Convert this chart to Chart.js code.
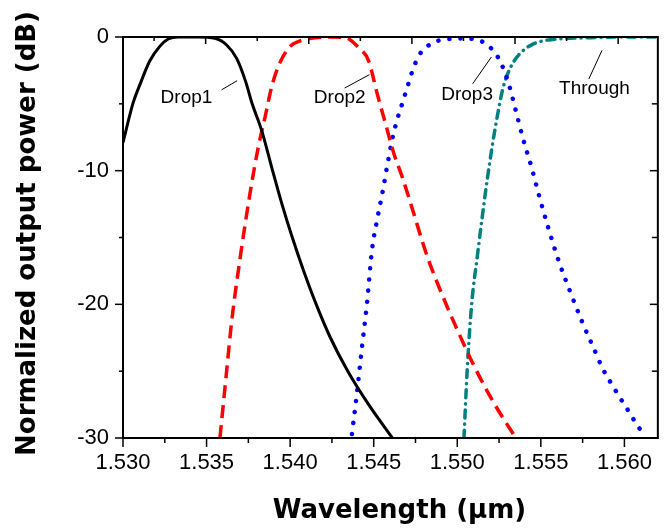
<!DOCTYPE html>
<html>
<head>
<meta charset="utf-8">
<title>Normalized output power vs wavelength</title>
<script src="https://cdn.jsdelivr.net/npm/chart.js@4.4.1/dist/chart.umd.min.js"></script>
<style>
  html, body { margin: 0; padding: 0; background: #ffffff; }
  #wrap { width: 664px; height: 529px; }
</style>
</head>
<body>
<div id="wrap"><canvas id="spectrum" width="664" height="529"></canvas></div>
<script>
// Values: wavelength in um, normalized power in dB
const drop1X = [1.5300, 1.5306, 1.5310, 1.5316, 1.5322, 1.5327, 1.5333, 1.5345, 1.5355, 1.5362,
  1.5368, 1.53733, 1.53773, 1.53830, 1.53895, 1.53951, 1.54013, 1.54081, 1.54156, 1.54241,
  1.54345, 1.54470, 1.54612];
const drop1Y = [-7.9, -4.95, -3.6, -1.8, -0.7, -0.15, 0, 0, -0.1, -0.6,
  -1.6, -3.3, -5.0, -7.0, -10.0, -12.5, -15.0, -17.5, -20.0, -22.5,
  -25.0, -27.5, -30.0];

const drop2X = [1.5358, 1.5362, 1.5365, 1.5370, 1.5376, 1.5381, 1.5385, 1.5389, 1.5394, 1.5400,
  1.5407, 1.5415, 1.5425, 1.5433, 1.5441, 1.5447, 1.5452, 1.5457, 1.5462, 1.5467,
  1.5471, 1.5482, 1.5491, 1.5500, 1.5510, 1.5522, 1.5534];
const drop2Y = [-30.0, -25.0, -21.3, -16.6, -11.7, -8.2, -6.0, -3.7, -1.9, -0.7,
  -0.25, -0.05, 0, -0.05, -0.8, -1.8, -4.2, -6.45, -8.7, -10.45,
  -12.0, -16.4, -19.3, -21.9, -24.6, -27.4, -29.8];

const drop3X = [1.5437, 1.5440, 1.5443, 1.5446, 1.5449, 1.5452, 1.5455, 1.5458, 1.5461, 1.5464,
  1.5467, 1.5470, 1.5473, 1.5477, 1.5481, 1.5488, 1.5496, 1.5505, 1.5514, 1.5517,
  1.5522, 1.5526, 1.5531, 1.5535, 1.5539, 1.5545, 1.5549, 1.5560, 1.5568, 1.5575,
  1.5581, 1.5587, 1.5594, 1.5602, 1.5608, 1.5612];
const drop3Y = [-29.7, -26.6, -23.2, -19.9, -15.9, -13.7, -11.8, -9.7, -7.7, -6.2,
  -5.0, -3.8, -2.6, -1.4, -0.8, -0.3, -0.15, -0.1, -0.3, -0.5,
  -1.1, -1.9, -3.6, -5.5, -7.45, -10.0, -11.9, -16.5, -19.2, -21.4,
  -23.1, -24.8, -26.3, -27.9, -29.1, -29.8];

const throughX = [1.55040, 1.55059, 1.55086, 1.5512, 1.5515, 1.5518, 1.5521, 1.5524, 1.5527, 1.5530,
  1.5534, 1.5539, 1.5545, 1.5553, 1.5567, 1.5580, 1.5600, 1.5620];
const throughY = [-30.0, -25.0, -20.0, -16.4, -13.4, -10.6, -8.1, -5.9, -4.0, -2.8,
  -1.8, -1.05, -0.55, -0.25, -0.1, -0.05, 0, 0];

const xTickLabels = ['1.530', '1.535', '1.540', '1.545', '1.550', '1.555', '1.560'];
const yTickLabels = ['0', '-10', '-20', '-30'];

// curve labels with their leader lines (data coordinates)
const notes = [
  { text: 'Drop1', at: [1.53225, -4.94], from: [1.5359, -3.95], to: [1.53683, -3.27] },
  { text: 'Drop2', at: [1.54142, -4.94], from: [1.54326, -3.82], to: [1.54474, -2.82] },
  { text: 'Drop3', at: [1.54904, -4.75], from: [1.55092, -3.50], to: [1.55204, -1.50] },
  { text: 'Through', at: [1.55609, -4.25], from: [1.55787, -3.15], to: [1.55866, -1.00] }
];

const TICK_FONT = { family: '"Liberation Sans", Arial, sans-serif', size: 22 };

function points(xs, ys) {
  return xs.map((x, i) => ({ x: x, y: ys[i] }));
}

function labelFor(list, value) {
  const hit = list.find(l => Math.abs(Number(l) - value) < 1e-6);
  return hit === undefined ? '' : hit;
}

// frame, Origin-style tick marks, axis titles and curve labels
const framePlugin = {
  id: 'framePlugin',
  afterDatasetsDraw(chart) {
    const { ctx, chartArea: a, scales: { x, y } } = chart;
    const seg = (x1, y1, x2, y2) => {
      ctx.beginPath();
      ctx.moveTo(x1, y1);
      ctx.lineTo(x2, y2);
      ctx.stroke();
    };

    ctx.save();
    ctx.strokeStyle = '#000';
    ctx.lineWidth = 2;
    ctx.strokeRect(a.left, a.top, a.right - a.left, a.bottom - a.top);

    ctx.lineWidth = 1.5;
    // bottom axis: majors and half-step minors, pointing out
    xTickLabels.forEach((l, i) => {
      const v = Number(l);
      const px = x.getPixelForValue(v);
      seg(px, a.bottom, px, a.bottom + 9);
      if (i < xTickLabels.length - 1) {
        const pm = x.getPixelForValue(v + 0.0025);
        seg(pm, a.bottom, pm, a.bottom + 5);
      }
    });
    // top axis: its own spacing, pointing in
    for (let k = 0; k < 10; k++) {
      const px = x.getPixelForValue(1.53186 + k * 0.003085);
      seg(px, a.top, px, a.top + (k % 2 ? 7 : 4));
    }
    // left axis out, right axis in
    yTickLabels.forEach((l, i) => {
      const v = Number(l);
      const py = y.getPixelForValue(v);
      seg(a.left - 8, py, a.left, py);
      seg(a.right, py, a.right - 8, py);
      if (i < yTickLabels.length - 1) {
        const pm = y.getPixelForValue(v - 5);
        seg(a.left - 4, pm, a.left, pm);
        seg(a.right, pm, a.right - 6, pm);
      }
    });

    // curve labels
    ctx.lineWidth = 1;
    ctx.fillStyle = '#000';
    ctx.font = '19px "Liberation Sans", Arial, sans-serif';
    ctx.textAlign = 'left';
    ctx.textBaseline = 'alphabetic';
    notes.forEach(n => {
      ctx.fillText(n.text, x.getPixelForValue(n.at[0]), y.getPixelForValue(n.at[1]));
      seg(x.getPixelForValue(n.from[0]), y.getPixelForValue(n.from[1]),
          x.getPixelForValue(n.to[0]), y.getPixelForValue(n.to[1]));
    });

    // axis titles
    ctx.font = 'bold 26px "DejaVu Sans", sans-serif';
    ctx.textAlign = 'center';
    ctx.fillText('Wavelength (\u03bcm)', (a.left + a.right) / 2 + 9, 518);
    ctx.translate(35, (a.top + a.bottom) / 2 - 4);
    ctx.rotate(-Math.PI / 2);
    ctx.fillText('Normalized output power (dB)', 0, 0);
    ctx.restore();
  }
};

const common = { pointRadius: 0, fill: false, cubicInterpolationMode: 'monotone' };

new Chart(document.getElementById('spectrum'), {
  type: 'line',
  data: {
    datasets: [
      Object.assign({ label: 'Drop1', data: points(drop1X, drop1Y),
        borderColor: '#000000', borderWidth: 3 }, common),
      Object.assign({ label: 'Drop2', data: points(drop2X, drop2Y),
        borderColor: '#ff0000', borderWidth: 3.5, borderDash: [13, 7] }, common),
      Object.assign({ label: 'Drop3', data: points(drop3X, drop3Y),
        borderColor: '#0000ff', borderWidth: 4.5, borderDash: [0.1, 11], borderCapStyle: 'round' }, common),
      Object.assign({ label: 'Through', data: points(throughX, throughY),
        borderColor: '#008080', borderWidth: 3.5, borderDash: [8, 6, 0.1, 6], borderCapStyle: 'round' }, common)
    ]
  },
  options: {
    responsive: false,
    animation: false,
    layout: { padding: { top: 37, right: 1, left: 0, bottom: 0 } },
    plugins: {
      legend: { display: false },
      tooltip: { enabled: false }
    },
    scales: {
      x: {
        type: 'linear',
        min: 1.530,
        max: 1.562,
        afterFit: (s) => { s.height = 91; },
        grid: { display: true, drawOnChartArea: false, drawTicks: false, color: 'rgba(0,0,0,0)' },
        border: { display: false },
        ticks: {
          stepSize: 0.005,
          includeBounds: false,
          autoSkip: false,
          maxRotation: 0,
          padding: 12,
          color: '#000',
          font: TICK_FONT,
          callback: (v) => labelFor(xTickLabels, v)
        }
      },
      y: {
        type: 'linear',
        min: -30,
        max: 0,
        afterFit: (s) => { s.width = 123; },
        grid: { display: true, drawOnChartArea: false, drawTicks: false, color: 'rgba(0,0,0,0)' },
        border: { display: false },
        ticks: {
          stepSize: 10,
          includeBounds: false,
          padding: 14,
          color: '#000',
          font: TICK_FONT,
          callback: (v) => labelFor(yTickLabels, v)
        }
      }
    }
  },
  plugins: [framePlugin]
});
</script>
</body>
</html>
